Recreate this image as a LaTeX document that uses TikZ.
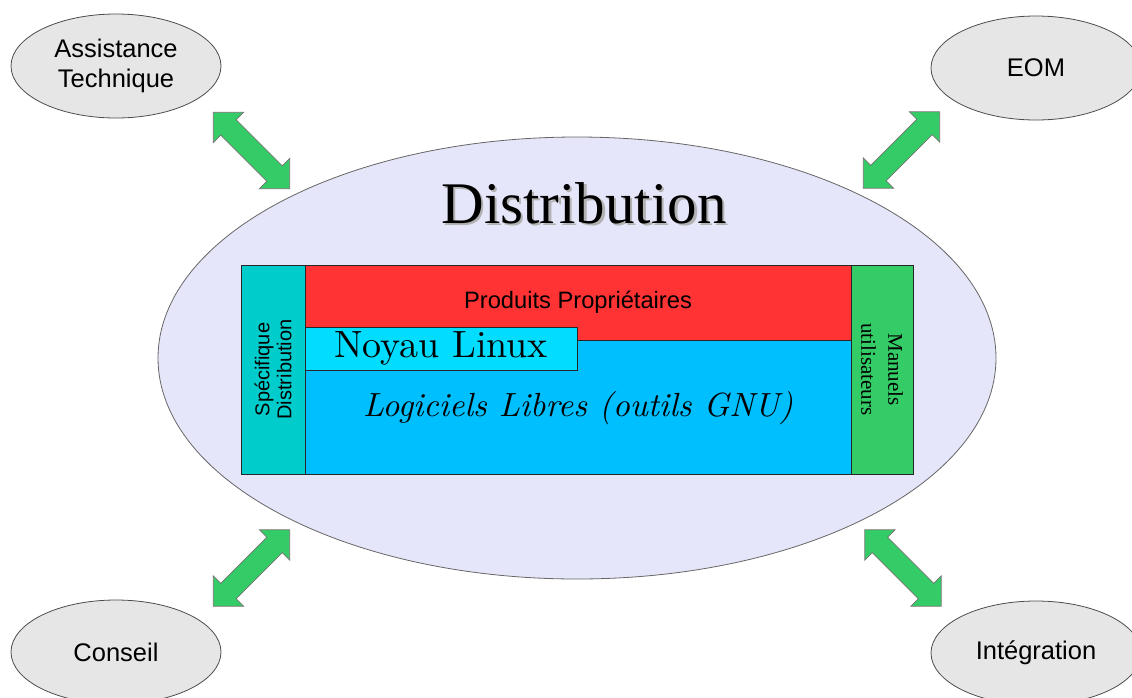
\documentclass[tikz,border=0pt]{standalone}
\usepackage{fontspec}
\setsansfont{Liberation Sans}
\newfontfamily\timesfont{Liberation Serif}
\newfontfamily\cmfont{lmroman10-regular}[Extension=.otf, ItalicFont=lmroman10-italic]
\usetikzlibrary{shapes.geometric, shapes.arrows, positioning}

\definecolor{lavande}{RGB}{230,230,250}
\definecolor{grisclair}{RGB}{230,230,230}
\definecolor{vertfleche}{RGB}{51,204,102}
\definecolor{rougeprop}{RGB}{255,51,51}
\definecolor{bleulibre}{RGB}{0,191,255}
\definecolor{cyannoyau}{RGB}{0,221,255}
\definecolor{turquoise}{RGB}{0,204,204}
\definecolor{vertmanuel}{RGB}{51,204,102}

\begin{document}
\begin{tikzpicture}[x=1pt, y=-1pt,
    service/.style={ellipse, draw=black!70, fill=grisclair, line width=0.8pt, minimum width=210pt, minimum height=104pt, inner sep=0pt, align=center, font=\sffamily\fontsize{25.5}{30}\selectfont},
    fleche/.style={double arrow, draw=black!55, fill=vertfleche, line width=0.8pt, minimum height=108pt, double arrow head extend=10.5pt, inner xsep=0pt, inner ysep=10.5pt},
    bloc/.style={rectangle, draw=black!85, line width=0.8pt, inner sep=0pt, align=center}]

        \useasboundingbox (0,0) rectangle (1132,697);

        % Central distribution ellipse
        \node[ellipse, draw=black!60, fill=lavande, line width=0.8pt, minimum width=838pt, minimum height=442pt] (distrib) at (577,358) {};

        % Title with its shadow
        \node[text=black!30, font=\timesfont\fontsize{59}{60}\selectfont] (ombre) at (586.5,205.5) {Distribution};
        \node[font=\timesfont\fontsize{59}{60}\selectfont] (titre) at (584,203) {Distribution};

        % Services around the distribution
        \node[service] (assist) at (116,66) {Assistance\\Technique};
        \node[service] (eom) at (1036,68) {EOM};
        \node[service] (conseil) at (116,652) {Conseil};
        \node[service] (integ) at (1036,653) {Intégration};

        % Double arrows between the services and the distribution
        \foreach \nom/\x/\y/\ang in {fl1/251.5/150.5/-45, fl2/901.5/150/45, fl3/251.5/568/45, fl4/903/568/-45} {
          \node[fleche, rotate=\ang] (\nom) at (\x,\y) {};
        }

        % Content of the distribution
        \node[bloc, fill=turquoise, rotate=90, minimum width=209pt, minimum height=64pt, font=\sffamily\fontsize{20}{22}\selectfont] (specif) at (273,369.5) {Spécifique\\Distribution};
        \node[bloc, fill=rougeprop, minimum width=546pt, minimum height=75pt, font=\sffamily\fontsize{23.7}{26}\selectfont] (prop) at (578,302.5) {Produits Propriétaires};
        \node[bloc, fill=bleulibre, minimum width=546pt, minimum height=134pt, below=0pt of prop, font=\cmfont\itshape\fontsize{33.5}{36}\selectfont] (libre) {Logiciels Libres (outils GNU)};
        \node[bloc, fill=cyannoyau, minimum width=272pt, minimum height=43pt, font=\cmfont\fontsize{38}{40}\selectfont] (noyau) at (441,348.5) {Noyau Linux};
        \node[bloc, fill=vertmanuel, rotate=-90, minimum width=209pt, minimum height=62pt, font=\timesfont\fontsize{21}{27}\selectfont] (manuels) at (882,369.5) {Manuels\\utilisateurs};

      \end{tikzpicture}
\end{document}
